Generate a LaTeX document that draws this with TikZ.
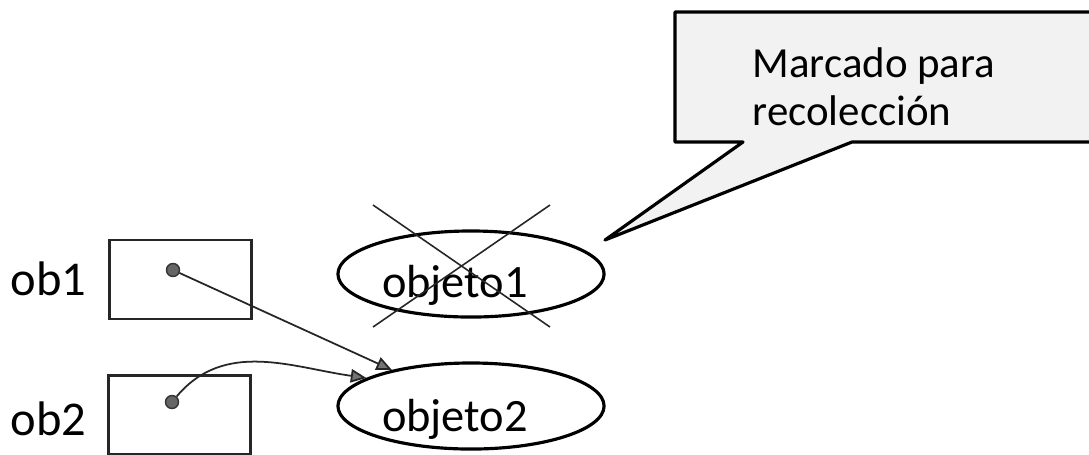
\documentclass[tikz,border=0pt]{standalone}
\usepackage{fontspec}
\setmainfont{Carlito}
\usetikzlibrary{arrows.meta,shapes.geometric}

\tikzset{
  caja/.style={draw=black!85, line width=0.6pt, minimum width=1.42cm, minimum height=0.79cm, inner sep=0pt},
  punto/.style={circle, draw=black!80, fill=black!60, line width=0.4pt, minimum size=0.13cm, inner sep=0pt},
  objeto/.style={ellipse, draw=black, line width=0.9pt, minimum width=2.66cm, minimum height=0.86cm, inner sep=0pt},
  etiqueta/.style={font=\fontsize{13.8}{16}\selectfont, inner sep=0pt},
  texto/.style={font=\fontsize{12.2}{13.7}\selectfont, inner sep=0pt},
  textobj/.style={font=\fontsize{13.2}{15}\selectfont, inner sep=0pt},
  flecha/.style={line width=0.5pt, draw=black!85, -{Triangle[length=4.4pt, width=3.8pt, fill=black!55]}},
}

\begin{document}
\begin{tikzpicture}[x=0.01cm, y=-0.01cm]
    \useasboundingbox (0,0) rectangle (1089,454);

    % draw callout
    \draw[line width=0.9pt, fill=black!5, line join=round]
      (675,12) -- (1110,12) -- (1110,142) -- (852,142) -- (605,240)
      -- (743,142) -- (675,142) -- cycle;
    \node[texto, anchor=base west] (nota1) at (752,77) {Marcado para};
    \node[texto, anchor=base west] (nota2) at (752,125) {recolección};

    % draw variables
    \node[etiqueta, anchor=base west] (ob1) at (10,295) {ob1};
    \node[etiqueta, anchor=base west] (ob2) at (10,435) {ob2};
    \node[caja] (caja1) at (180.5,279.5) {};
    \node[caja] (caja2) at (179.5,415) {};
    \node[punto] (punto1) at (173,270) {};
    \node[punto] (punto2) at (172,402) {};

    % draw objects
    \node[objeto] (objeto1) at (471,274) {};
    \node[objeto] (objeto2) at (471,406) {};
    \node[textobj, anchor=base] (txt1) at (455,297) {objeto1};
    \node[textobj, anchor=base] (txt2) at (455,431) {objeto2};

    % cross out objeto1
    \draw[line width=0.45pt, black!85] (373,205) -- (550,327);
    \draw[line width=0.45pt, black!85] (550,205) -- (373,327);

    % draw references
    \draw[flecha] (punto1) -- (objeto2);
    \draw[flecha] (punto2) to[out=50, in=172] (objeto2.165);

  \end{tikzpicture}
\end{document}
